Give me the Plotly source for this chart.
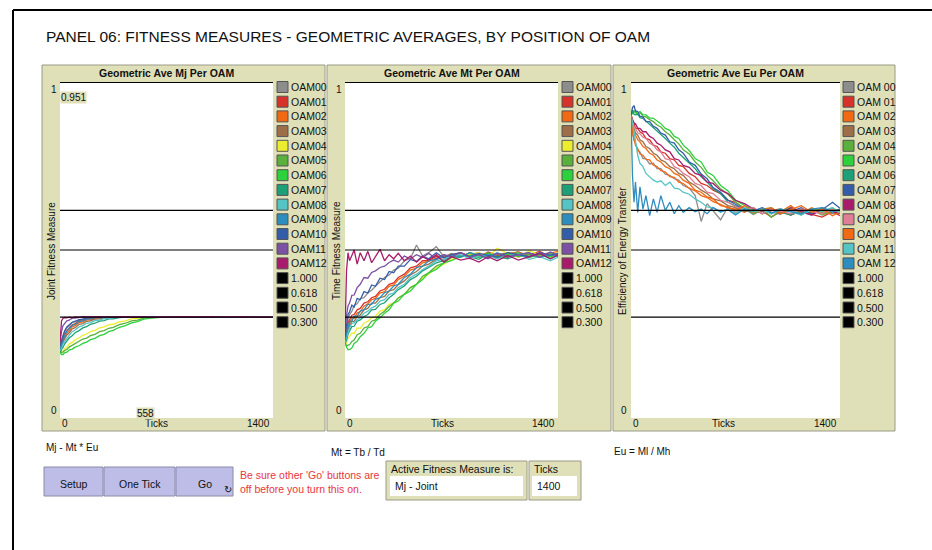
import plotly.graph_objects as go

# ---------------- data ----------------
TICKS = [0, 5, 10, 20, 30, 45, 60, 80, 100, 125, 150, 175, 200, 230, 260, 290, 320, 350, 390, 430,
         470, 510, 550, 600, 650, 700, 760, 820, 880, 940, 1000, 1070, 1140, 1210, 1280, 1350, 1400]

LABELS_A = ["OAM00", "OAM01", "OAM02", "OAM03", "OAM04", "OAM05", "OAM06",
            "OAM07", "OAM08", "OAM09", "OAM10", "OAM11", "OAM12"]
LABELS_B = ["OAM 00", "OAM 01", "OAM 02", "OAM 03", "OAM 04", "OAM 05", "OAM 06",
            "OAM 07", "OAM 08", "OAM 09", "OAM 10", "OAM 11", "OAM 12"]
REF_LABELS = ["1.000", "0.618", "0.500", "0.300"]
REF_LEVELS = [1.0, 0.618, 0.5, 0.3]

# Mj (joint fitness)
MJ_00 = [0.222, 0.228, 0.232, 0.247, 0.256, 0.269, 0.274, 0.284, 0.287, 0.292,
         0.294, 0.297, 0.298, 0.300, 0.301, 0.300, 0.302, 0.301, 0.300, 0.302,
         0.301, 0.300, 0.301, 0.302, 0.300, 0.301, 0.302, 0.300, 0.301, 0.300,
         0.302, 0.301, 0.300, 0.301, 0.302, 0.300, 0.301]
MJ_01 = [0.212, 0.217, 0.223, 0.239, 0.247, 0.260, 0.267, 0.277, 0.281, 0.288,
         0.290, 0.295, 0.295, 0.298, 0.299, 0.301, 0.300, 0.302, 0.301, 0.300,
         0.302, 0.301, 0.300, 0.302, 0.301, 0.300, 0.301, 0.302, 0.300, 0.301,
         0.302, 0.300, 0.301, 0.300, 0.302, 0.301, 0.300]
MJ_02 = [0.210, 0.212, 0.216, 0.231, 0.240, 0.253, 0.259, 0.271, 0.275, 0.284,
         0.286, 0.292, 0.292, 0.297, 0.297, 0.300, 0.301, 0.300, 0.302, 0.301,
         0.300, 0.301, 0.302, 0.300, 0.301, 0.302, 0.300, 0.301, 0.300, 0.302,
         0.301, 0.300, 0.302, 0.301, 0.300, 0.301, 0.302]
MJ_03 = [0.206, 0.208, 0.212, 0.226, 0.233, 0.247, 0.253, 0.265, 0.269, 0.279,
         0.281, 0.288, 0.289, 0.294, 0.295, 0.299, 0.299, 0.301, 0.300, 0.302,
         0.301, 0.300, 0.301, 0.302, 0.300, 0.301, 0.300, 0.302, 0.301, 0.300,
         0.301, 0.302, 0.300, 0.301, 0.302, 0.300, 0.301]
MJ_04 = [0.196, 0.193, 0.197, 0.199, 0.206, 0.211, 0.220, 0.225, 0.233, 0.238,
         0.246, 0.250, 0.257, 0.261, 0.268, 0.271, 0.277, 0.279, 0.286, 0.289,
         0.295, 0.296, 0.299, 0.301, 0.300, 0.302, 0.301, 0.300, 0.302, 0.301,
         0.300, 0.301, 0.302, 0.300, 0.301, 0.300, 0.302]
MJ_05 = [0.198, 0.194, 0.195, 0.196, 0.201, 0.204, 0.211, 0.216, 0.223, 0.228,
         0.235, 0.238, 0.245, 0.249, 0.257, 0.260, 0.267, 0.270, 0.278, 0.282,
         0.289, 0.291, 0.297, 0.299, 0.300, 0.302, 0.301, 0.300, 0.301, 0.302,
         0.300, 0.301, 0.300, 0.302, 0.301, 0.300, 0.301]
MJ_06 = [0.195, 0.190, 0.189, 0.189, 0.194, 0.196, 0.202, 0.205, 0.211, 0.215,
         0.222, 0.226, 0.233, 0.237, 0.245, 0.249, 0.257, 0.261, 0.270, 0.275,
         0.283, 0.287, 0.294, 0.297, 0.300, 0.301, 0.302, 0.300, 0.301, 0.300,
         0.302, 0.301, 0.300, 0.301, 0.302, 0.300, 0.301]
MJ_07 = [0.200, 0.198, 0.204, 0.210, 0.220, 0.228, 0.238, 0.245, 0.254, 0.260,
         0.268, 0.272, 0.279, 0.282, 0.288, 0.290, 0.295, 0.295, 0.299, 0.300,
         0.301, 0.302, 0.300, 0.301, 0.302, 0.300, 0.301, 0.300, 0.302, 0.301,
         0.300, 0.301, 0.302, 0.300, 0.301, 0.302, 0.300]
MJ_08 = [0.202, 0.205, 0.208, 0.220, 0.227, 0.239, 0.246, 0.257, 0.262, 0.271,
         0.275, 0.282, 0.284, 0.290, 0.291, 0.296, 0.296, 0.299, 0.300, 0.302,
         0.301, 0.300, 0.301, 0.302, 0.300, 0.301, 0.300, 0.302, 0.301, 0.300,
         0.301, 0.302, 0.300, 0.301, 0.300, 0.302, 0.301]
MJ_09 = [0.205, 0.211, 0.218, 0.235, 0.245, 0.258, 0.265, 0.275, 0.279, 0.287,
         0.289, 0.294, 0.295, 0.299, 0.299, 0.301, 0.300, 0.302, 0.301, 0.300,
         0.301, 0.302, 0.300, 0.301, 0.300, 0.302, 0.301, 0.300, 0.301, 0.302,
         0.300, 0.301, 0.302, 0.300, 0.301, 0.300, 0.302]
MJ_10 = [0.215, 0.222, 0.230, 0.249, 0.259, 0.271, 0.277, 0.285, 0.288, 0.293,
         0.294, 0.298, 0.298, 0.300, 0.302, 0.301, 0.300, 0.301, 0.302, 0.300,
         0.301, 0.300, 0.302, 0.301, 0.300, 0.301, 0.302, 0.300, 0.301, 0.300,
         0.302, 0.301, 0.300, 0.301, 0.302, 0.300, 0.301]
MJ_11 = [0.228, 0.247, 0.258, 0.275, 0.281, 0.289, 0.291, 0.297, 0.297, 0.300,
         0.301, 0.300, 0.302, 0.301, 0.300, 0.301, 0.302, 0.300, 0.301, 0.300,
         0.302, 0.301, 0.300, 0.301, 0.302, 0.300, 0.301, 0.300, 0.302, 0.301,
         0.300, 0.301, 0.302, 0.300, 0.301, 0.302, 0.300]
MJ_12 = [0.225, 0.272, 0.289, 0.297, 0.299, 0.298, 0.300, 0.299, 0.301, 0.300,
         0.302, 0.301, 0.300, 0.301, 0.302, 0.300, 0.301, 0.300, 0.302, 0.301,
         0.300, 0.301, 0.302, 0.300, 0.301, 0.300, 0.302, 0.301, 0.300, 0.301,
         0.302, 0.300, 0.301, 0.302, 0.300, 0.301, 0.300]

# Mt (time fitness)
MT_00 = [0.240, 0.255, 0.268, 0.295, 0.308, 0.318, 0.335, 0.340, 0.355, 0.358,
         0.372, 0.380, 0.392, 0.405, 0.418, 0.426, 0.440, 0.446, 0.468, 0.475,
         0.515, 0.482, 0.492, 0.510, 0.480, 0.490, 0.478, 0.492, 0.484, 0.490,
         0.478, 0.488, 0.494, 0.480, 0.486, 0.492, 0.482]
MT_01 = [0.235, 0.247, 0.258, 0.283, 0.292, 0.306, 0.308, 0.322, 0.326, 0.342,
         0.346, 0.358, 0.362, 0.378, 0.383, 0.398, 0.402, 0.418, 0.428, 0.447,
         0.452, 0.468, 0.468, 0.482, 0.480, 0.486, 0.492, 0.482, 0.478, 0.494,
         0.484, 0.478, 0.492, 0.486, 0.496, 0.480, 0.490]
MT_02 = [0.230, 0.242, 0.248, 0.272, 0.282, 0.298, 0.297, 0.313, 0.316, 0.333,
         0.340, 0.352, 0.356, 0.372, 0.376, 0.392, 0.396, 0.412, 0.422, 0.440,
         0.446, 0.462, 0.466, 0.476, 0.486, 0.478, 0.492, 0.480, 0.486, 0.490,
         0.478, 0.488, 0.494, 0.480, 0.484, 0.492, 0.496]
MT_03 = [0.228, 0.234, 0.243, 0.264, 0.272, 0.288, 0.287, 0.303, 0.306, 0.322,
         0.326, 0.342, 0.342, 0.358, 0.362, 0.378, 0.382, 0.397, 0.408, 0.426,
         0.436, 0.452, 0.458, 0.472, 0.478, 0.488, 0.480, 0.486, 0.492, 0.478,
         0.486, 0.492, 0.480, 0.488, 0.478, 0.492, 0.484]
MT_04 = [0.220, 0.222, 0.223, 0.238, 0.242, 0.253, 0.252, 0.268, 0.267, 0.283,
         0.288, 0.298, 0.302, 0.318, 0.322, 0.338, 0.342, 0.358, 0.368, 0.388,
         0.398, 0.418, 0.428, 0.447, 0.458, 0.472, 0.478, 0.488, 0.492, 0.480,
         0.505, 0.490, 0.478, 0.498, 0.486, 0.480, 0.492]
MT_05 = [0.225, 0.221, 0.214, 0.217, 0.218, 0.228, 0.232, 0.248, 0.252, 0.268,
         0.272, 0.288, 0.292, 0.308, 0.318, 0.332, 0.342, 0.357, 0.368, 0.388,
         0.398, 0.422, 0.432, 0.452, 0.462, 0.478, 0.480, 0.492, 0.478, 0.486,
         0.474, 0.492, 0.480, 0.486, 0.478, 0.490, 0.482]
MT_06 = [0.225, 0.214, 0.211, 0.203, 0.204, 0.208, 0.222, 0.228, 0.242, 0.252,
         0.268, 0.272, 0.288, 0.298, 0.312, 0.322, 0.342, 0.348, 0.368, 0.378,
         0.398, 0.412, 0.432, 0.442, 0.462, 0.468, 0.482, 0.484, 0.478, 0.492,
         0.480, 0.486, 0.492, 0.478, 0.486, 0.480, 0.490]
MT_07 = [0.222, 0.226, 0.231, 0.250, 0.258, 0.272, 0.273, 0.288, 0.292, 0.302,
         0.308, 0.322, 0.323, 0.338, 0.343, 0.358, 0.368, 0.382, 0.393, 0.412,
         0.422, 0.438, 0.448, 0.462, 0.468, 0.482, 0.484, 0.480, 0.472, 0.488,
         0.480, 0.474, 0.486, 0.480, 0.488, 0.474, 0.484]
MT_08 = [0.225, 0.232, 0.238, 0.258, 0.268, 0.282, 0.283, 0.293, 0.298, 0.312,
         0.318, 0.328, 0.333, 0.348, 0.352, 0.368, 0.372, 0.388, 0.398, 0.418,
         0.428, 0.442, 0.452, 0.468, 0.472, 0.482, 0.486, 0.474, 0.482, 0.486,
         0.474, 0.482, 0.488, 0.472, 0.480, 0.468, 0.478]
MT_09 = [0.230, 0.236, 0.252, 0.268, 0.287, 0.288, 0.303, 0.303, 0.318, 0.322,
         0.338, 0.338, 0.353, 0.358, 0.373, 0.378, 0.393, 0.398, 0.418, 0.428,
         0.448, 0.452, 0.468, 0.472, 0.484, 0.482, 0.478, 0.492, 0.484, 0.478,
         0.492, 0.480, 0.486, 0.492, 0.478, 0.486, 0.480]
MT_10 = [0.240, 0.268, 0.276, 0.308, 0.316, 0.336, 0.330, 0.356, 0.352, 0.376,
         0.372, 0.396, 0.392, 0.416, 0.412, 0.436, 0.432, 0.452, 0.452, 0.472,
         0.466, 0.482, 0.474, 0.492, 0.476, 0.486, 0.492, 0.480, 0.490, 0.484,
         0.478, 0.492, 0.486, 0.480, 0.492, 0.484, 0.490]
MT_11 = [0.250, 0.292, 0.305, 0.334, 0.342, 0.365, 0.366, 0.388, 0.398, 0.418,
         0.416, 0.433, 0.438, 0.448, 0.452, 0.463, 0.470, 0.464, 0.482, 0.474,
         0.486, 0.478, 0.490, 0.474, 0.486, 0.480, 0.492, 0.478, 0.486, 0.474,
         0.490, 0.480, 0.486, 0.492, 0.478, 0.494, 0.484]
MT_12 = [0.250, 0.400, 0.438, 0.492, 0.468, 0.484, 0.500, 0.458, 0.492, 0.468,
         0.496, 0.462, 0.480, 0.502, 0.468, 0.486, 0.474, 0.490, 0.468, 0.482,
         0.464, 0.480, 0.470, 0.486, 0.464, 0.480, 0.470, 0.476, 0.464, 0.480,
         0.468, 0.484, 0.470, 0.480, 0.490, 0.474, 0.486]

# Eu (efficiency of energy transfer)
EU_00 = [0.900, 0.868, 0.852, 0.826, 0.818, 0.796, 0.792, 0.772, 0.772, 0.756,
         0.758, 0.742, 0.742, 0.726, 0.722, 0.712, 0.708, 0.692, 0.684, 0.662,
         0.585, 0.638, 0.618, 0.590, 0.628, 0.612, 0.622, 0.606, 0.620, 0.612,
         0.606, 0.622, 0.612, 0.604, 0.620, 0.608, 0.616]
EU_01 = [0.900, 0.896, 0.882, 0.878, 0.862, 0.862, 0.852, 0.846, 0.832, 0.828,
         0.812, 0.808, 0.792, 0.788, 0.772, 0.768, 0.752, 0.748, 0.728, 0.718,
         0.698, 0.692, 0.678, 0.668, 0.648, 0.642, 0.622, 0.612, 0.616, 0.598,
         0.614, 0.604, 0.618, 0.606, 0.598, 0.614, 0.602]
EU_02 = [0.900, 0.872, 0.846, 0.832, 0.812, 0.802, 0.786, 0.782, 0.770, 0.768,
         0.752, 0.748, 0.736, 0.732, 0.718, 0.716, 0.702, 0.698, 0.684, 0.676,
         0.662, 0.656, 0.644, 0.636, 0.624, 0.622, 0.612, 0.626, 0.608, 0.622,
         0.614, 0.632, 0.608, 0.626, 0.612, 0.622, 0.608]
EU_03 = [0.900, 0.886, 0.872, 0.862, 0.848, 0.842, 0.828, 0.822, 0.808, 0.802,
         0.788, 0.782, 0.768, 0.762, 0.748, 0.742, 0.728, 0.722, 0.702, 0.692,
         0.678, 0.668, 0.652, 0.646, 0.632, 0.626, 0.614, 0.622, 0.608, 0.618,
         0.622, 0.604, 0.616, 0.622, 0.608, 0.616, 0.622]
EU_04 = [0.900, 0.906, 0.912, 0.914, 0.908, 0.906, 0.910, 0.898, 0.896, 0.888,
         0.882, 0.872, 0.866, 0.852, 0.842, 0.828, 0.816, 0.798, 0.786, 0.762,
         0.746, 0.722, 0.706, 0.682, 0.666, 0.642, 0.626, 0.608, 0.622, 0.598,
         0.616, 0.626, 0.608, 0.620, 0.604, 0.616, 0.620]
EU_05 = [0.900, 0.912, 0.904, 0.912, 0.914, 0.904, 0.912, 0.903, 0.902, 0.893,
         0.892, 0.883, 0.876, 0.862, 0.856, 0.838, 0.832, 0.812, 0.796, 0.772,
         0.762, 0.732, 0.722, 0.692, 0.676, 0.648, 0.632, 0.618, 0.616, 0.626,
         0.608, 0.622, 0.604, 0.622, 0.614, 0.626, 0.610]
EU_06 = [0.900, 0.910, 0.916, 0.904, 0.902, 0.904, 0.894, 0.892, 0.884, 0.876,
         0.864, 0.856, 0.844, 0.832, 0.818, 0.806, 0.788, 0.776, 0.758, 0.742,
         0.718, 0.702, 0.682, 0.668, 0.642, 0.632, 0.618, 0.626, 0.608, 0.622,
         0.614, 0.604, 0.622, 0.610, 0.626, 0.614, 0.620]
EU_07 = [0.900, 0.916, 0.924, 0.930, 0.914, 0.912, 0.898, 0.896, 0.882, 0.882,
         0.868, 0.862, 0.848, 0.842, 0.822, 0.818, 0.798, 0.788, 0.762, 0.752,
         0.726, 0.712, 0.686, 0.672, 0.648, 0.636, 0.618, 0.616, 0.626, 0.608,
         0.622, 0.614, 0.626, 0.608, 0.620, 0.642, 0.624]
EU_08 = [0.900, 0.894, 0.892, 0.878, 0.876, 0.862, 0.862, 0.852, 0.852, 0.838,
         0.832, 0.818, 0.812, 0.798, 0.792, 0.772, 0.768, 0.752, 0.746, 0.728,
         0.722, 0.702, 0.698, 0.678, 0.668, 0.648, 0.638, 0.622, 0.616, 0.622,
         0.608, 0.626, 0.614, 0.604, 0.622, 0.616, 0.608]
EU_09 = [0.900, 0.888, 0.882, 0.866, 0.862, 0.848, 0.846, 0.836, 0.832, 0.818,
         0.812, 0.798, 0.792, 0.772, 0.768, 0.748, 0.742, 0.728, 0.718, 0.698,
         0.692, 0.672, 0.668, 0.648, 0.642, 0.628, 0.620, 0.626, 0.608, 0.622,
         0.616, 0.608, 0.622, 0.614, 0.608, 0.622, 0.614]
EU_10 = [0.900, 0.878, 0.866, 0.848, 0.842, 0.828, 0.822, 0.808, 0.802, 0.788,
         0.782, 0.768, 0.762, 0.748, 0.742, 0.728, 0.722, 0.708, 0.698, 0.678,
         0.672, 0.658, 0.652, 0.632, 0.628, 0.618, 0.632, 0.612, 0.622, 0.626,
         0.608, 0.620, 0.632, 0.612, 0.622, 0.602, 0.614]
EU_11 = [0.900, 0.892, 0.878, 0.852, 0.818, 0.782, 0.758, 0.748, 0.728, 0.718,
         0.708, 0.702, 0.706, 0.692, 0.702, 0.684, 0.682, 0.672, 0.666, 0.652,
         0.642, 0.628, 0.626, 0.612, 0.622, 0.608, 0.626, 0.614, 0.620, 0.608,
         0.622, 0.614, 0.604, 0.620, 0.616, 0.626, 0.610]
EU_12 = [0.900, 0.782, 0.722, 0.642, 0.702, 0.612, 0.688, 0.622, 0.662, 0.602,
         0.652, 0.612, 0.662, 0.618, 0.642, 0.608, 0.632, 0.612, 0.626, 0.614,
         0.622, 0.608, 0.626, 0.614, 0.620, 0.604, 0.622, 0.616, 0.626, 0.610,
         0.620, 0.614, 0.608, 0.622, 0.626, 0.614, 0.620]

MJ = [MJ_00, MJ_01, MJ_02, MJ_03, MJ_04, MJ_05, MJ_06, MJ_07, MJ_08, MJ_09, MJ_10, MJ_11, MJ_12]
MT = [MT_00, MT_01, MT_02, MT_03, MT_04, MT_05, MT_06, MT_07, MT_08, MT_09, MT_10, MT_11, MT_12]
EU = [EU_00, EU_01, EU_02, EU_03, EU_04, EU_05, EU_06, EU_07, EU_08, EU_09, EU_10, EU_11, EU_12]

# ---------------- styling ----------------
GRAY, RED, ORANGE, BROWN = "#8D8D8D", "#D73229", "#F16913", "#9D6E48"
YELLOW, GREEN, LIME, TURQ = "#EDED2F", "#59B03C", "#2CD13B", "#1D9F78"
CYAN, SKY, BLUE, VIOLET = "#54C4C4", "#2D8DBE", "#345DA9", "#7C50A4"
MAGENTA, PINK = "#A71B6A", "#E07E95"
COLORS_A = [GRAY, RED, ORANGE, BROWN, YELLOW, GREEN, LIME, TURQ, CYAN, SKY, BLUE, VIOLET, MAGENTA]
COLORS_B = [GRAY, RED, ORANGE, BROWN, GREEN, LIME, TURQ, BLUE, MAGENTA, PINK, ORANGE, CYAN, SKY]

W, H = 932, 550
FONT = "Liberation Sans, Arial, sans-serif"
TAN = "#E0E0B8"
LAV = "#BDBDE8"
TXT = "#111111"


def fx(x):
    return x / W


def fy(y):
    return 1 - y / H


fig = go.Figure()


def rect(x0, y0, x1, y1, fill, line=None, lw=1, layer="below"):
    fig.add_shape(type="rect", xref="paper", yref="paper",
                  x0=fx(x0), x1=fx(x1), y0=fy(y1), y1=fy(y0),
                  fillcolor=fill,
                  line=dict(color=line if line else fill, width=lw if line else 0),
                  layer=layer)


def hline(x0, y0, x1, y1, color, width):
    fig.add_shape(type="line", xref="paper", yref="paper",
                  x0=fx(x0), x1=fx(x1), y0=fy(y0), y1=fy(y1),
                  line=dict(color=color, width=width), layer="above")


def txt(x, y, s, size=10, xanchor="left", color=TXT, angle=0, bg=None, family=FONT):
    fig.add_annotation(x=fx(x), y=fy(y), xref="paper", yref="paper", text=s,
                       showarrow=False, xanchor=xanchor, yanchor="middle",
                       font=dict(family=family, size=size, color=color),
                       textangle=angle, bgcolor=bg, borderpad=0)


panels = [
    dict(series=MJ, colors=COLORS_A, labels=LABELS_A, title="Geometric Ave Mj Per OAM",
         ytitle="Joint Fitness Measure", box=(42, 65, 325, 431), plot=(60, 82, 273, 418),
         ylab_x=54, ytitle_x=52, title_x=166, ticks_x=156, leg_x=277),
    dict(series=MT, colors=COLORS_A, labels=LABELS_A, title="Geometric Ave Mt Per OAM",
         ytitle="Time Fitness Measure", box=(327, 65, 611, 431), plot=(345, 82, 558, 418),
         ylab_x=339, ytitle_x=337, title_x=452, ticks_x=442, leg_x=562),
    dict(series=EU, colors=COLORS_B, labels=LABELS_B, title="Geometric Ave Eu Per OAM",
         ytitle="Efficiency of Energy Transfer", box=(613, 65, 895, 431), plot=(631, 82, 840, 418),
         ylab_x=624, ytitle_x=623, title_x=735, ticks_x=723, leg_x=843),
]

layout_axes = {}
for i, p in enumerate(panels):
    n = "" if i == 0 else str(i + 1)
    x0, y0, x1, y1 = p["plot"]
    layout_axes["xaxis" + n] = dict(domain=[fx(x0), fx(x1)], range=[TICKS[0], TICKS[-1]],
                                    visible=False, fixedrange=True, anchor="y" + n)
    layout_axes["yaxis" + n] = dict(domain=[fy(y1), fy(y0)], range=[0, 1],
                                    visible=False, fixedrange=True, anchor="x" + n)

    # panel background and plot area
    bx0, by0, bx1, by1 = p["box"]
    rect(bx0, by0, bx1, by1, TAN, line="#9A9A88", lw=1)
    rect(x0, y0, x1, y1, "#FFFFFF")

    # data pens
    for s, c in zip(p["series"], p["colors"]):
        fig.add_trace(go.Scatter(x=TICKS, y=s, mode="lines", line=dict(color=c, width=1.3),
                                 xaxis="x" + n, yaxis="y" + n, hoverinfo="skip", showlegend=False))
    # reference pens
    for lv in REF_LEVELS:
        fig.add_trace(go.Scatter(x=[TICKS[0], TICKS[-1]], y=[lv, lv], mode="lines",
                                 line=dict(color="#000000", width=2 if lv == 1.0 else 1.2),
                                 xaxis="x" + n, yaxis="y" + n, hoverinfo="skip", showlegend=False))

    # texts
    txt(p["title_x"], 73, "<b>" + p["title"] + "</b>", size=10.5, xanchor="center")
    txt(p["ylab_x"], 90, "1", size=10, xanchor="center")
    txt(p["ylab_x"], 410, "0", size=10, xanchor="center")
    txt(x0 + 1, 423, "0", size=10, xanchor="left")
    txt(p["ticks_x"], 423, "Ticks", size=10, xanchor="center")
    txt(x1 - 2, 423, "1400", size=10, xanchor="right")
    txt(p["ytitle_x"], 251, p["ytitle"], size=10, xanchor="center", angle=-90)

    # legend
    lx = p["leg_x"]
    entries = list(zip(p["labels"], p["colors"])) + [(lab, "#000000") for lab in REF_LABELS]
    for k, (lab, col) in enumerate(entries):
        yc = 87 + k * 14.7
        rect(lx, yc - 5.5, lx + 11, yc + 5.5, col, line="#555555", lw=1, layer="above")
        txt(lx + 13, yc, lab, size=10.5, xanchor="left")

# mouse-position readouts on the first plot
txt(60, 97, "0.951", size=10, xanchor="left", bg=TAN)
txt(136, 413, "558", size=10, xanchor="left", bg=TAN)

# page title and frame
txt(45, 37, "PANEL 06: FITNESS MEASURES - GEOMETRIC AVERAGES, BY POSITION OF OAM", size=15.5)
hline(13, 10, 932, 10, "#000000", 2)
hline(13, 10, 13, 550, "#000000", 2)

# notes under plots
txt(45, 447, "Mj - Mt * Eu", size=10)
txt(330, 452, "Mt = Tb / Td", size=10)
txt(613, 451, "Eu = Ml / Mh", size=10)

# buttons
for (bx0, bx1, label) in [(44, 103, "Setup"), (104, 175, "One Tick"), (176, 233, "Go")]:
    rect(bx0, 467, bx1, 496, LAV, line="#8A8AA6", lw=1)
    txt((bx0 + bx1) / 2, 484, label, size=10.5, xanchor="center")
txt(228, 489, "↻", size=10, xanchor="center", family="DejaVu Sans")
txt(239, 475, "Be sure other 'Go' buttons are", size=10.5, color="#E8363B")
txt(239, 489, "off before you turn this on.", size=10.5, color="#E8363B")

# monitors
rect(386, 461, 527, 500, TAN, line="#9A9A88", lw=1)
txt(390, 468.5, "Active Fitness Measure is:", size=10.5)
rect(390, 476, 523, 496, "#FFFFFF")
txt(394, 486, "Mj - Joint", size=10.5)
rect(529, 461, 581, 500, TAN, line="#9A9A88", lw=1)
txt(533, 468.5, "Ticks", size=10.5)
rect(532, 476, 577, 496, "#FFFFFF")
txt(536, 486, "1400", size=10.5)

fig.update_layout(width=W, height=H, margin=dict(l=0, r=0, t=0, b=0),
                  paper_bgcolor="#FFFFFF", plot_bgcolor="rgba(0,0,0,0)",
                  showlegend=False, **layout_axes)

fig.write_html("out.html", config={"displayModeBar": False},
               post_script="document.body.style.margin='0px';")
